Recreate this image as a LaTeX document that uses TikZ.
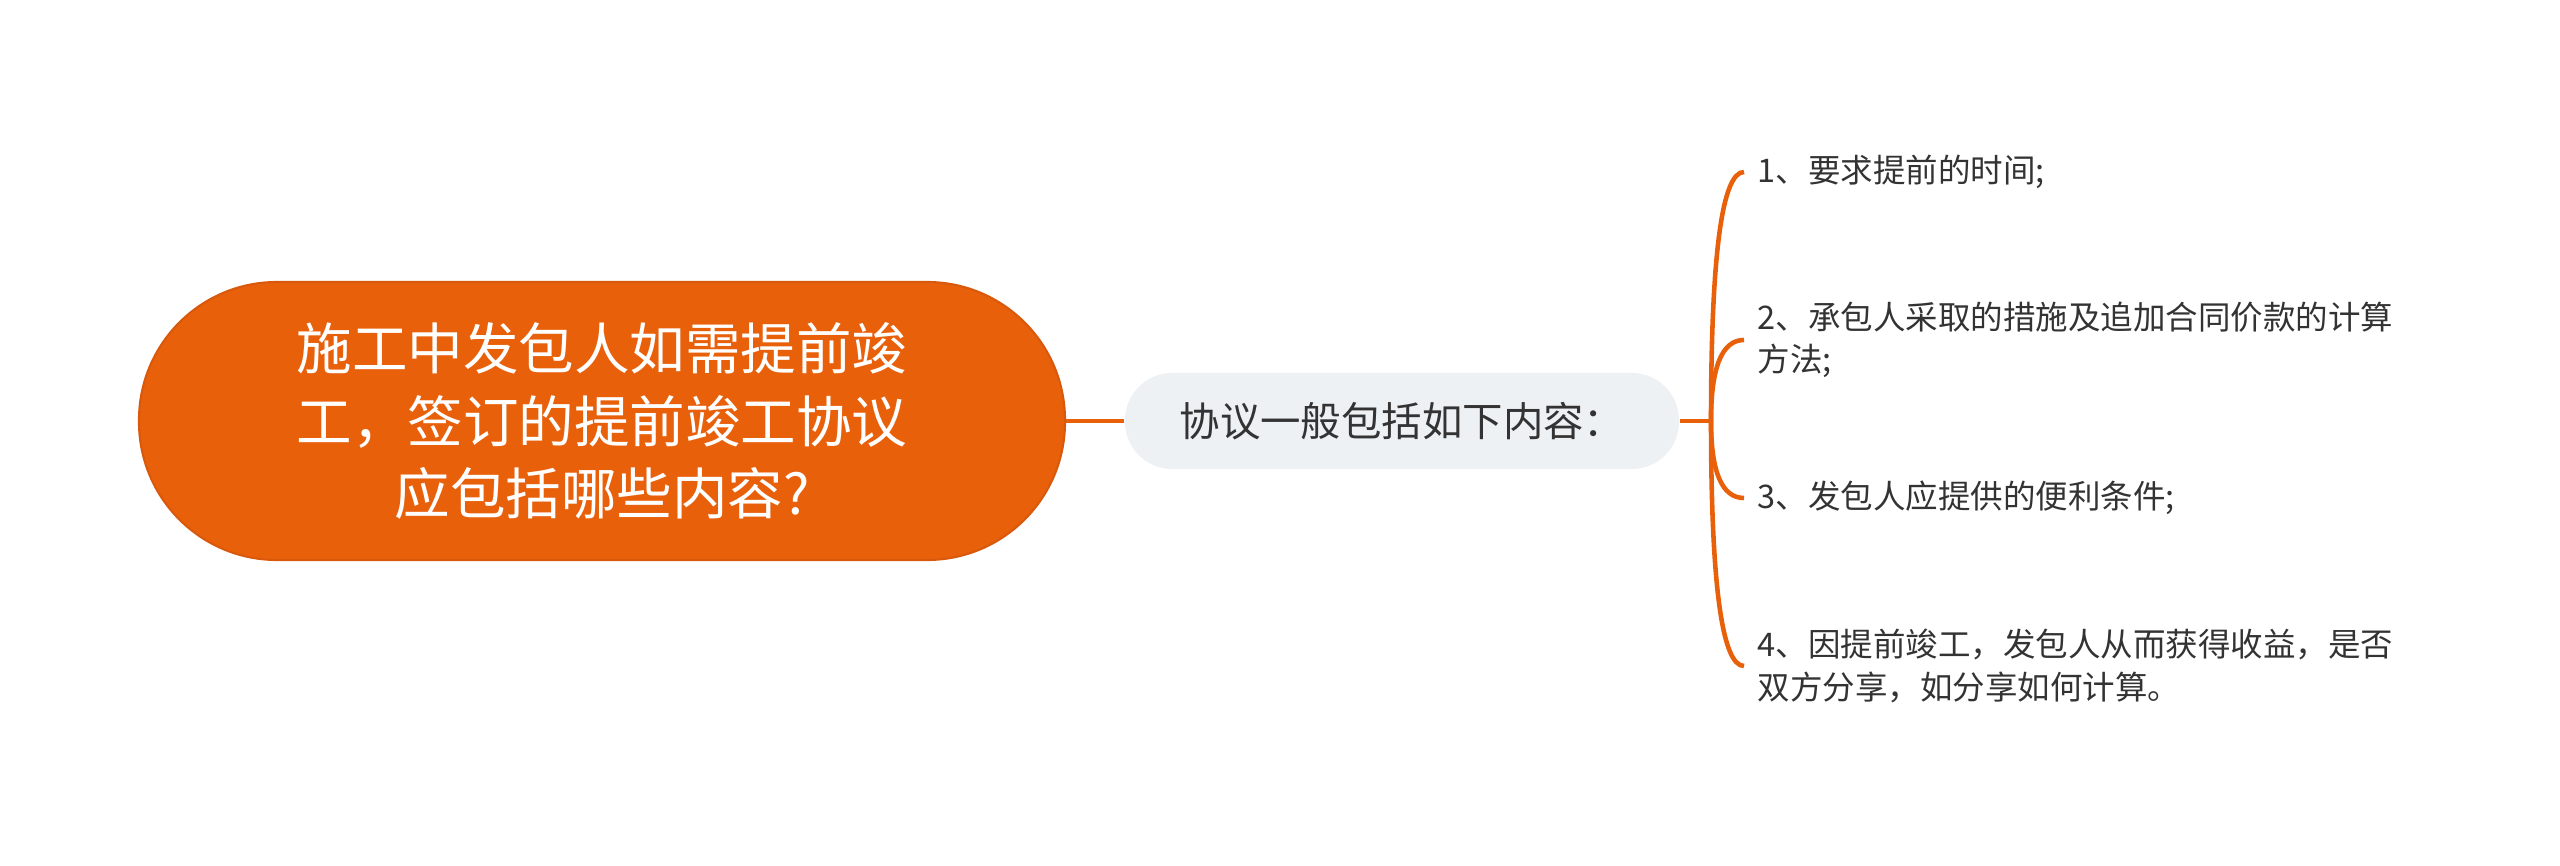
\documentclass[tikz,border=0pt]{standalone}
\usepackage{fontspec}
\newfontfamily\cjk{Noto Sans CJK SC}
\usepackage{tikz}
\usetikzlibrary{positioning,calc}
\definecolor{mainorange}{HTML}{E9600B}
\definecolor{rootedge}{HTML}{D9590C}
\definecolor{subfill}{HTML}{EEF1F4}
\definecolor{textgray}{HTML}{333333}

\begin{document}
\begin{tikzpicture}[
		root/.style={rectangle, rounded corners=1.38cm, fill=mainorange, draw=rootedge, line width=0.6pt, minimum width=9.26cm, minimum height=2.78cm, text=white, align=center, font=\cjk\fontsize{15.8}{20.6}\selectfont},
		sub/.style={rectangle, rounded corners=0.47cm, fill=subfill, minimum width=5.54cm, minimum height=0.96cm, text=textgray, font=\cjk\fontsize{11.5}{14}\selectfont},
		leaf/.style={anchor=west, inner xsep=0.13cm, align=left, text=textgray, font=\cjk\fontsize{9.25}{12.1}\selectfont},
		branch/.style={draw=mainorange, line width=1.3pt}
	]
				\useasboundingbox (0,0) rectangle (25.6,8.66);
				\node[root] (Q) at (6.02, 4.45) {施工中发包人如需提前竣\\工，签订的提前竣工协议\\应包括哪些内容?};
				\node[sub] (C) at (14.02, 4.45) {协议一般包括如下内容：};
				\coordinate (J) at (17.11, 4.45);
				\node[leaf] (L1) at (17.44, 6.94) {1、要求提前的时间;};
				\node[leaf] (L2) at (17.44, 5.26) {2、承包人采取的措施及追加合同价款的计算\\方法;};
				\node[leaf] (L3) at (17.44, 3.68) {3、发包人应提供的便利条件;};
				\node[leaf] (L4) at (17.44, 2.00) {4、因提前竣工，发包人从而获得收益，是否\\双方分享，如分享如何计算。};
				\draw[branch] (Q) -- (C);
				\draw[branch] (C) -- (J);
				\draw[branch] (J) .. controls ($(J)!0.667!(J |- L1.west)$) and ($(L1.west)!0.667!(J |- L1.west)$) .. (L1.west);
				\draw[branch] (J) .. controls ($(J)!0.667!(J |- L2.west)$) and ($(L2.west)!0.667!(J |- L2.west)$) .. (L2.west);
				\draw[branch] (J) .. controls ($(J)!0.667!(J |- L3.west)$) and ($(L3.west)!0.667!(J |- L3.west)$) .. (L3.west);
				\draw[branch] (J) .. controls ($(J)!0.667!(J |- L4.west)$) and ($(L4.west)!0.667!(J |- L4.west)$) .. (L4.west);
			\end{tikzpicture}
\end{document}
